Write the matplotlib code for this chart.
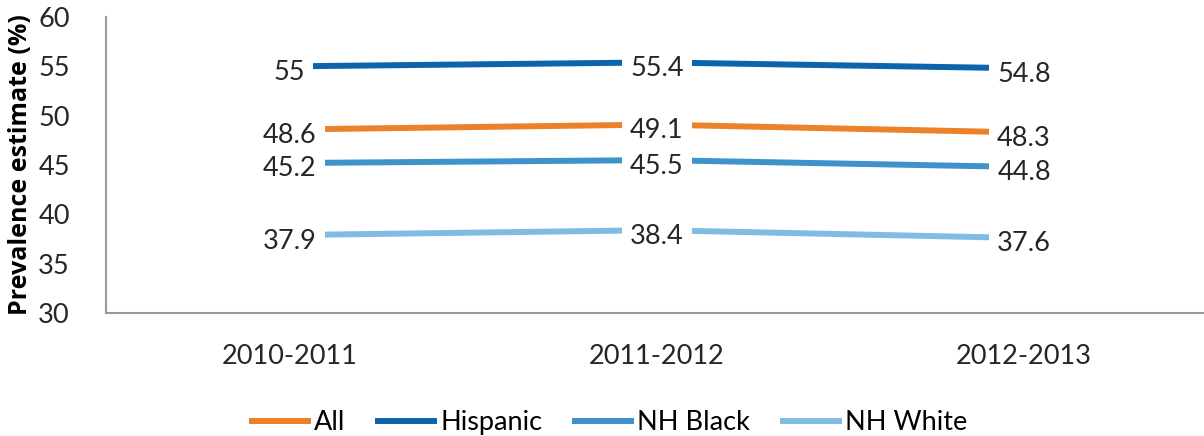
import matplotlib
matplotlib.use('Agg')
import matplotlib.pyplot as plt

periods = ['2010-2011', '2011-2012', '2012-2013']
series_names = ['All', 'Hispanic', 'NH Black', 'NH White']
all_vals = [48.6, 49.1, 48.3]
hispanic_vals = [55.0, 55.4, 54.8]
nh_black_vals = [45.2, 45.5, 44.8]
nh_white_vals = [37.9, 38.4, 37.6]
colors = ['#EC8129', '#0B64AC', '#3D93CA', '#7FBCE1']

plt.rcParams['font.family'] = ['Lato', 'DejaVu Sans']
fs = 19.5

fig = plt.figure(figsize=(12.04, 4.36), dpi=100)
ax = fig.add_axes([0.088, 0.282, 0.912, 0.679])

x = list(range(len(periods)))
handles = []
for vals, name, c in zip([all_vals, hispanic_vals, nh_black_vals, nh_white_vals],
                         series_names, colors):
    h, = ax.plot(x, vals, color=c, linewidth=4.3, solid_capstyle='butt', zorder=2)
    handles.append(h)
    for xi, v in zip(x, vals):
        lbl = '%g' % v
        ax.text(xi, v - 0.6, lbl, ha='center', va='center', fontsize=fs,
                color='#262626', zorder=3,
                bbox=dict(boxstyle='square,pad=0.3', fc='white', ec='none'))

ax.set_xlim(-0.5, 2.49)
ax.set_ylim(30, 60)
ax.set_yticks(range(30, 61, 5))
ax.set_xticks(x)
ax.set_xticklabels(periods)
ax.tick_params(length=0, labelsize=fs, colors='#262626')
ax.tick_params(axis='x', pad=22)
ax.tick_params(axis='y', pad=26)

for s in ['top', 'right']:
    ax.spines[s].set_visible(False)
for s in ['left', 'bottom']:
    ax.spines[s].set_color('#999999')
    ax.spines[s].set_linewidth(1.5)

ax.set_ylabel('Prevalence estimate (%)', fontsize=18, fontweight='bold',
              family=['Open Sans', 'DejaVu Sans'], color='black', labelpad=4)

fig.legend(handles, series_names, loc='center', bbox_to_anchor=(0.505, 0.03),
           ncol=4, frameon=False, fontsize=fs, handlelength=2.3,
           handletextpad=0.1, columnspacing=1.1)

fig.savefig('out.png', dpi=100)
